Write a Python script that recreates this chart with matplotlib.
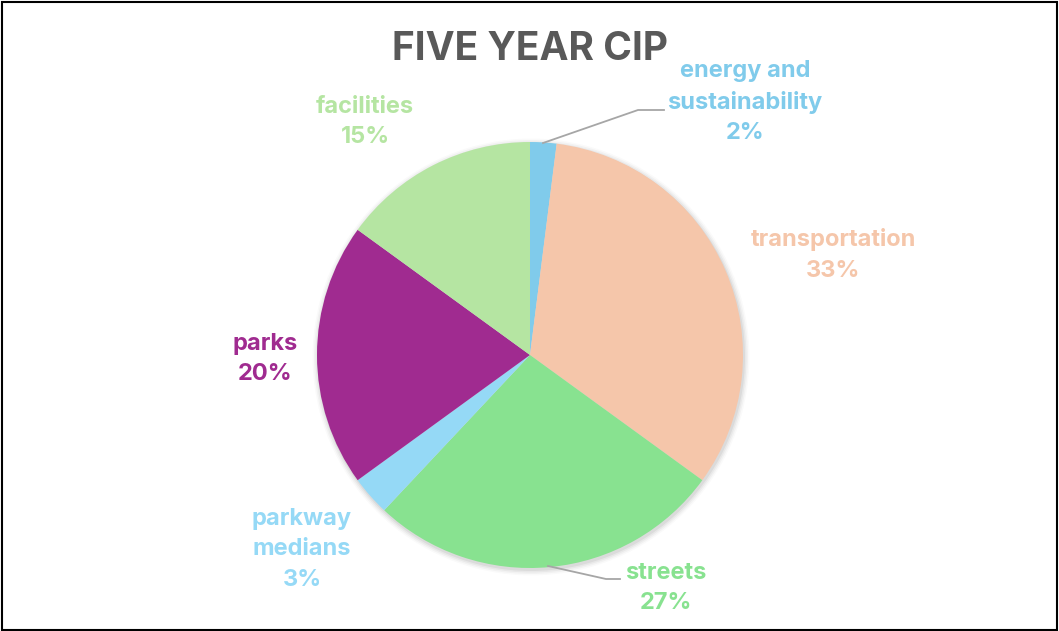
import matplotlib.pyplot as plt
from matplotlib.patches import Rectangle, Circle

plt.rcParams['font.family'] = ['Inter', 'DejaVu Sans']

# Data
labels = ['energy and\nsustainability', 'transportation', 'streets',
          'parkway\nmedians', 'parks', 'facilities']
shares = [2, 33, 27, 3, 20, 15]
colors = ['#80CBEB', '#F5C6AA', '#88E290', '#95D9F6', '#A02B90', '#B5E5A2']

W, H = 1059, 631
fig = plt.figure(figsize=(W / 100, H / 100), dpi=100)
ax = fig.add_axes([0, 0, 1, 1])

cx, cy, r = 530, H - 355, 213

# soft shadow behind the pie
for i, a in enumerate([0.05, 0.04, 0.03, 0.02]):
    ax.add_patch(Circle((cx + 1, cy - 2), r + 1 + i * 1.5, color='black',
                        alpha=a, lw=0, zorder=1))

ax.pie(shares, colors=colors, startangle=90, counterclock=False,
       center=(cx, cy), radius=r, frame=True,
       wedgeprops=dict(linewidth=0, zorder=2))
ax.set_xlim(0, W)
ax.set_ylim(0, H)
ax.set_aspect('equal')
ax.axis('off')

# label positions (pixel coordinates, top origin)
label_pos = [(745, 102), (833, 255), (666, 588), (302, 549), (265, 359), (365, 122)]
for lab, s, c, (x, y) in zip(labels, shares, colors, label_pos):
    ax.text(x, H - y, f'{lab}\n{s}%', color=c, fontsize=17, fontweight='bold',
            ha='center', va='center', linespacing=1.5, zorder=5)

# leader lines
ax.plot([543, 638, 664], [H - 143, H - 110, H - 110], color='#A6A6A6', lw=1.3, zorder=4)
ax.plot([548, 606, 620], [H - 566, H - 579, H - 579], color='#A6A6A6', lw=1.3, zorder=4)

ax.text(530, H - 50, 'FIVE YEAR CIP', color='#595959', fontsize=28,
        fontweight='bold', ha='center', va='center', zorder=5)

# chart border
fig.patches.append(Rectangle((1.5 / W, 1.5 / H), 1 - 3.5 / W, 1 - 3.5 / H,
                             transform=fig.transFigure, fill=False,
                             edgecolor='black', lw=1.5))

fig.savefig('out.png', dpi=100)
